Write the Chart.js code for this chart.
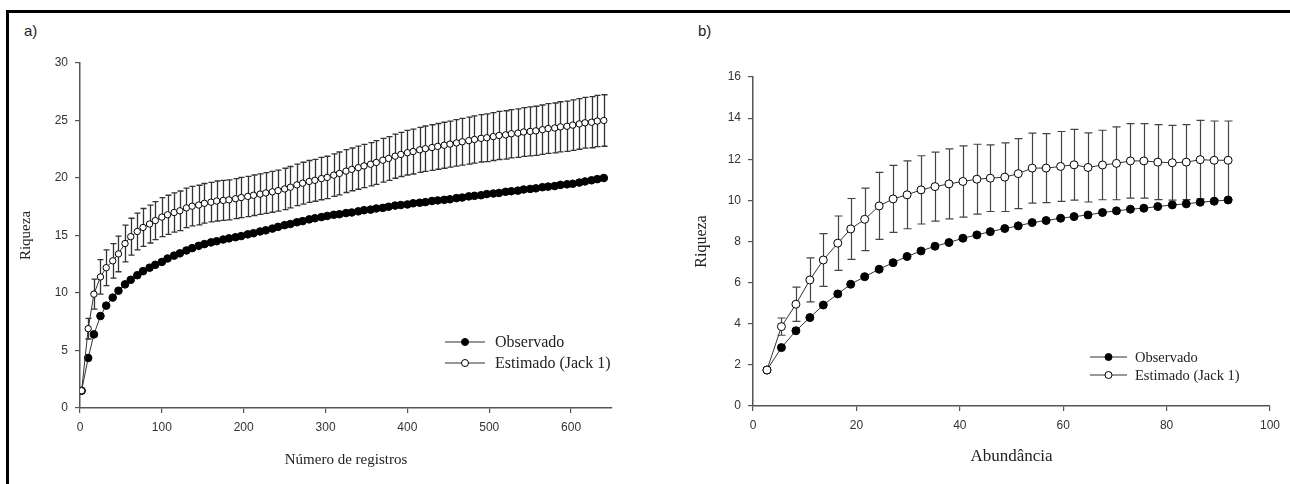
<!DOCTYPE html>
<html>
<head>
<meta charset="utf-8">
<script src="https://cdn.jsdelivr.net/npm/chart.js@4.4.1/dist/chart.umd.min.js"></script>
<style>
    body { margin: 0; background: #fff; width: 1290px; height: 484px; overflow: hidden; position: relative; }
    .frame { position: absolute; left: 6px; top: 10px; right: -10px; bottom: -10px; border-left: 3px solid #000; border-top: 3px solid #000; }
    .panel-label { position: absolute; font-family: "Liberation Sans", Arial, sans-serif; font-size: 15px; color: #222; }
    #chartA { position: absolute; left: 0; top: 0; }
    #chartB { position: absolute; left: 650px; top: 0; }
</style>
</head>
<body>
<div class="frame"></div>
<div class="panel-label" style="left:24px; top:22px;">a)</div>
<div class="panel-label" style="left:698px; top:22px;">b)</div>
<canvas id="chartA" width="650" height="484"></canvas>
<canvas id="chartB" width="640" height="484"></canvas>
<script>
// a) Número de registros
const registros = [2, 10, 17, 25, 32, 40, 47, 55, 62, 70,
    77, 85, 92, 100, 107, 115, 122, 130, 137, 145,
    152, 160, 167, 175, 182, 190, 197, 205, 212, 220,
    227, 235, 242, 250, 257, 265, 272, 280, 287, 295,
    302, 310, 317, 325, 332, 340, 347, 355, 362, 370,
    377, 385, 392, 400, 407, 415, 422, 430, 437, 445,
    452, 460, 467, 475, 482, 490, 497, 505, 512, 520,
    527, 535, 542, 550, 557, 565, 572, 580, 587, 595,
    602, 610, 617, 625, 632, 640];
const observadoA = [1.5, 4.35, 6.4, 8.0, 8.9, 9.6, 10.2, 10.75, 11.15, 11.55,
    11.9, 12.2, 12.45, 12.7, 13.0, 13.25, 13.45, 13.7, 13.9, 14.1,
    14.25, 14.4, 14.5, 14.65, 14.75, 14.85, 14.95, 15.1, 15.2, 15.35,
    15.45, 15.6, 15.75, 15.9, 16.0, 16.15, 16.25, 16.4, 16.5, 16.6,
    16.7, 16.8, 16.85, 16.95, 17.0, 17.1, 17.2, 17.25, 17.35, 17.4,
    17.5, 17.6, 17.65, 17.7, 17.8, 17.85, 17.9, 18.0, 18.05, 18.1,
    18.15, 18.25, 18.3, 18.4, 18.45, 18.5, 18.6, 18.65, 18.7, 18.8,
    18.85, 18.9, 19.0, 19.05, 19.1, 19.2, 19.25, 19.3, 19.4, 19.45,
    19.5, 19.6, 19.7, 19.8, 19.9, 20.0];
const jackA = [1.5, 6.9, 9.9, 11.4, 12.2, 12.8, 13.4, 14.3, 14.9, 15.35,
    15.7, 16.0, 16.3, 16.6, 16.8, 17.0, 17.15, 17.4, 17.55, 17.65,
    17.8, 17.9, 18.0, 18.05, 18.1, 18.2, 18.3, 18.4, 18.5, 18.6,
    18.7, 18.8, 18.9, 19.05, 19.2, 19.4, 19.55, 19.7, 19.8, 19.95,
    20.05, 20.25, 20.4, 20.6, 20.75, 20.9, 21.05, 21.2, 21.35, 21.55,
    21.7, 21.9, 22.05, 22.2, 22.3, 22.45, 22.55, 22.65, 22.75, 22.85,
    22.95, 23.05, 23.15, 23.25, 23.35, 23.45, 23.5, 23.6, 23.7, 23.75,
    23.85, 23.9, 24.0, 24.05, 24.1, 24.2, 24.3, 24.35, 24.45, 24.5,
    24.6, 24.7, 24.8, 24.85, 24.95, 25.0];
const jackSdA = [0, 0.9, 1.3, 1.5, 1.55, 1.5, 1.55, 1.6, 1.6, 1.6,
    1.65, 1.65, 1.65, 1.7, 1.7, 1.7, 1.72, 1.72, 1.72, 1.72,
    1.72, 1.72, 1.74, 1.74, 1.74, 1.74, 1.75, 1.75, 1.76, 1.76,
    1.77, 1.78, 1.78, 1.8, 1.8, 1.8, 1.82, 1.82, 1.82, 1.84,
    1.84, 1.84, 1.86, 1.86, 1.86, 1.88, 1.88, 1.88, 1.9, 1.9,
    1.9, 1.92, 1.92, 1.94, 1.95, 1.96, 1.97, 1.98, 1.99, 2.0,
    2.0, 2.02, 2.03, 2.04, 2.05, 2.06, 2.07, 2.08, 2.09, 2.1,
    2.1, 2.11, 2.12, 2.13, 2.14, 2.15, 2.16, 2.17, 2.18, 2.19,
    2.2, 2.2, 2.21, 2.22, 2.23, 2.24];
const ticksA_x = [0, 100, 200, 300, 400, 500, 600];
const ticksA_y = [0, 5, 10, 15, 20, 25, 30];

// b) Abundância
const abundancia = [2.7, 5.5, 8.3, 11.0, 13.6, 16.4, 18.9, 21.6, 24.4, 27.1,
    29.8, 32.5, 35.2, 37.9, 40.6, 43.3, 45.9, 48.7, 51.3, 54.0,
    56.7, 59.5, 62.1, 64.8, 67.6, 70.3, 73.0, 75.6, 78.3, 81.1,
    83.8, 86.5, 89.2, 91.9];
const observadoB = [1.75, 2.84, 3.66, 4.3, 4.91, 5.45, 5.92, 6.29, 6.65, 6.97,
    7.27, 7.54, 7.77, 7.95, 8.16, 8.32, 8.48, 8.63, 8.76, 8.92,
    9.02, 9.13, 9.21, 9.29, 9.41, 9.49, 9.57, 9.62, 9.7, 9.78,
    9.83, 9.91, 9.96, 10.02];
const jackB = [1.75, 3.86, 4.95, 6.13, 7.1, 7.92, 8.61, 9.08, 9.73, 10.07,
    10.27, 10.51, 10.67, 10.8, 10.92, 11.03, 11.08, 11.13, 11.3, 11.57,
    11.57, 11.65, 11.73, 11.6, 11.72, 11.8, 11.92, 11.92, 11.86, 11.83,
    11.86, 11.98, 11.95, 11.95];
const jackSdB = [0, 0.42, 0.83, 1.07, 1.28, 1.32, 1.48, 1.52, 1.63, 1.63,
    1.65, 1.66, 1.68, 1.7, 1.73, 1.7, 1.62, 1.67, 1.7, 1.7,
    1.68, 1.7, 1.72, 1.68, 1.69, 1.77, 1.81, 1.81, 1.82, 1.82,
    1.82, 1.91, 1.91, 1.91];
const ticksB_x = [0, 20, 40, 60, 80, 100];
const ticksB_y = [0, 2, 4, 6, 8, 10, 12, 14, 16];

const labels = ['Observado', 'Estimado (Jack 1)'];

const SANS = '"Liberation Sans", Arial, sans-serif';
const SERIF = '"Liberation Serif", "Times New Roman", serif';

function toPoints(xs, ys) {
    return xs.map((x, i) => ({ x: x, y: ys[i] }));
}

// vertical error bars (mean +/- sd) under the open circles
const errorBars = {
    id: 'errorBars',
    beforeDatasetsDraw(chart, args, opts) {
        const { ctx, scales } = chart;
        const ds = chart.data.datasets[opts.index];
        ctx.save();
        ctx.strokeStyle = opts.color;
        ctx.lineWidth = opts.width;
        ds.data.forEach((p, i) => {
            const sd = opts.sd[i];
            if (!sd) return;
            const px = Math.round(scales.x.getPixelForValue(p.x)) + 0.5;
            const top = scales.y.getPixelForValue(p.y + sd);
            const bot = scales.y.getPixelForValue(p.y - sd);
            ctx.beginPath();
            ctx.moveTo(px, top);
            ctx.lineTo(px, bot);
            ctx.moveTo(px - opts.cap, top);
            ctx.lineTo(px + opts.cap, top);
            ctx.moveTo(px - opts.cap, bot);
            ctx.lineTo(px + opts.cap, bot);
            ctx.stroke();
        });
        ctx.restore();
    }
};

// legend box drawn inside the plot
const innerLegend = {
    id: 'innerLegend',
    afterDraw(chart, args, opts) {
        const { ctx } = chart;
        ctx.save();
        ctx.font = opts.fontSize + 'px ' + SERIF;
        ctx.textBaseline = 'middle';
        chart.data.datasets.forEach((ds, i) => {
            const y = opts.y + i * opts.gap;
            ctx.strokeStyle = '#333';
            ctx.lineWidth = 1.2;
            ctx.beginPath();
            ctx.moveTo(opts.x, y);
            ctx.lineTo(opts.x + opts.len, y);
            ctx.stroke();
            ctx.beginPath();
            ctx.arc(opts.x + opts.len / 2, y, opts.r, 0, Math.PI * 2);
            ctx.fillStyle = ds.pointBackgroundColor;
            ctx.fill();
            ctx.strokeStyle = '#000';
            ctx.lineWidth = 1;
            ctx.stroke();
            ctx.fillStyle = '#222';
            ctx.fillText(ds.label, opts.x + opts.len + opts.textGap, y + 1);
        });
        ctx.restore();
    }
};

function axis(min, max, step, ticks, title, titleSize, titlePad, fit) {
    return {
        type: 'linear',
        min: min,
        max: max,
        afterBuildTicks: s => { s.ticks = ticks.map(v => ({ value: v })); },
        afterFit: fit,
        ticks: { stepSize: step, color: '#333', padding: 7, font: { family: SANS, size: 12 } },
        grid: { drawOnChartArea: false, drawTicks: true, tickLength: 5, color: '#555', lineWidth: 1.2 },
        border: { color: '#555', width: 1.5 },
        title: { display: true, text: title, color: '#222', padding: titlePad, font: { family: SERIF, size: titleSize } }
    };
}

function makeChart(id, xs, obs, est, sd, cfg) {
    const ctx = document.getElementById(id).getContext('2d');
    return new Chart(ctx, {
        type: 'line',
        data: {
            datasets: [{
                label: labels[0],
                data: toPoints(xs, obs),
                order: 2,
                borderColor: '#333',
                borderWidth: 1,
                pointRadius: cfg.rObs,
                pointBackgroundColor: '#000',
                pointBorderColor: '#000',
                pointBorderWidth: 1
            }, {
                label: labels[1],
                data: toPoints(xs, est),
                order: 1,
                borderColor: '#333',
                borderWidth: 1,
                pointRadius: cfg.rEst,
                pointBackgroundColor: '#fff',
                pointBorderColor: '#000',
                pointBorderWidth: 1
            }]
        },
        options: {
            responsive: false,
            animation: false,
            layout: { padding: cfg.padding },
            scales: {
                x: cfg.x,
                y: cfg.y
            },
            plugins: {
                legend: { display: false },
                tooltip: { enabled: false },
                errorBars: { index: 1, sd: sd, cap: cfg.cap, width: cfg.barWidth, color: cfg.barColor },
                innerLegend: cfg.legend
            }
        },
        plugins: [errorBars, innerLegend]
    });
}

makeChart('chartA', registros, observadoA, jackA, jackSdA, {
    rObs: 3.8,
    rEst: 3.2,
    cap: 3,
    barWidth: 1.3,
    barColor: '#333',
    padding: { left: 0, top: 63, right: 38, bottom: 0 },
    x: axis(0, 650, 100, ticksA_x, 'Número de registros', 15, { top: 0, bottom: 15 }, s => { s.height = 76; }),
    y: axis(0, 30, 5, ticksA_y, 'Riqueza', 15, { top: 17, bottom: 0 }, s => { s.width = 80; }),
    legend: { x: 445, y: 342, gap: 21, len: 40, r: 3.5, textGap: 10, fontSize: 16 }
});

makeChart('chartB', abundancia, observadoB, jackB, jackSdB, {
    rObs: 4,
    rEst: 4,
    cap: 4,
    barWidth: 1.2,
    barColor: '#444',
    padding: { left: 0, top: 77, right: 20, bottom: 0 },
    x: axis(0, 100, 20, ticksB_x, 'Abundância', 17, { top: 0, bottom: 17 }, s => { s.height = 78; }),
    y: axis(0, 16, 2, ticksB_y, 'Riqueza', 16, { top: 42, bottom: 0 }, s => { s.width = 103; }),
    legend: { x: 440, y: 357, gap: 18, len: 37, r: 3.5, textGap: 8, fontSize: 14.5 }
});
</script>
</body>
</html>
